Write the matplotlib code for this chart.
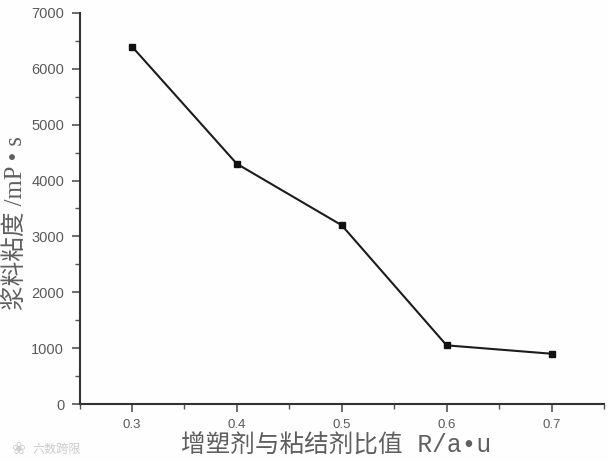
import matplotlib
matplotlib.use("Agg")
import matplotlib.pyplot as plt
from matplotlib.ticker import MultipleLocator

ratio = [0.3, 0.4, 0.5, 0.6, 0.7]
viscosity = [6400, 4300, 3200, 1050, 900]
x_ticks = [0.3, 0.4, 0.5, 0.6, 0.7]
y_ticks = [0, 1000, 2000, 3000, 4000, 5000, 6000, 7000]
x_label = "增塑剂与粘结剂比值 R/a\u2022u"
y_label = "浆料粘度 /mP \u2022 s"

W, H = 608, 462
fig = plt.figure(figsize=(W / 100, H / 100), dpi=100, facecolor="#fefefe")
ax = fig.add_axes([79.5 / W, 1 - 404 / H, (604 - 79.5) / W, (404 - 13) / H])
ax.set_facecolor("#fefefe")
ax.plot(ratio, viscosity, color="#1c1c1c", lw=1.5, marker="s", ms=4.8, mfc="#111111", mec="#111111")
ax.set_xlim(0.25, 0.75)
ax.set_ylim(0, 7000)
ax.set_xticks(x_ticks)
ax.set_xticklabels([f"{v:.1f}" for v in x_ticks])
ax.set_yticks(y_ticks)
ax.xaxis.set_minor_locator(MultipleLocator(0.05))
ax.yaxis.set_minor_locator(MultipleLocator(500))
for s in ("top", "right"):
    ax.spines[s].set_visible(False)
for s in ("left", "bottom"):
    ax.spines[s].set_linewidth(1.5)
    ax.spines[s].set_color("#333333")
ax.tick_params(axis="both", which="major", length=6, width=1.1, color="#444444",
               labelcolor="#5a5a5a", labelsize=10.5, pad=5)
ax.tick_params(axis="both", which="minor", length=3.5, width=1, color="#555555")
ax.tick_params(axis="x", which="major", labelsize=9.5, pad=4.5)
for t in ax.get_xticklabels() + ax.get_yticklabels():
    t.set_family(["Liberation Sans", "DejaVu Sans"])

fig.text(336 / W, 1 - 446 / H, x_label, ha="center", va="center", fontsize=17.7, color="#5f5f5f",
         family=["Liberation Mono", "Noto Sans CJK SC"])
fig.text(15 / W, 1 - 223 / H, y_label, ha="center", va="center", rotation=90, fontsize=17.7, color="#5f5f5f",
         family=["Liberation Serif", "Noto Sans CJK SC"])
fig.text(18 / W, 1 - 449 / H, "\u2740", ha="center", va="center", fontsize=12, color="#d0d0d0", family=["DejaVu Sans"])
fig.text(57 / W, 1 - 449 / H, "六数跨限", ha="center", va="center", fontsize=8.7, color="#cccccc",
         family=["Noto Sans CJK SC", "DejaVu Sans"])
fig.savefig("out.png", dpi=100, facecolor=fig.get_facecolor())
